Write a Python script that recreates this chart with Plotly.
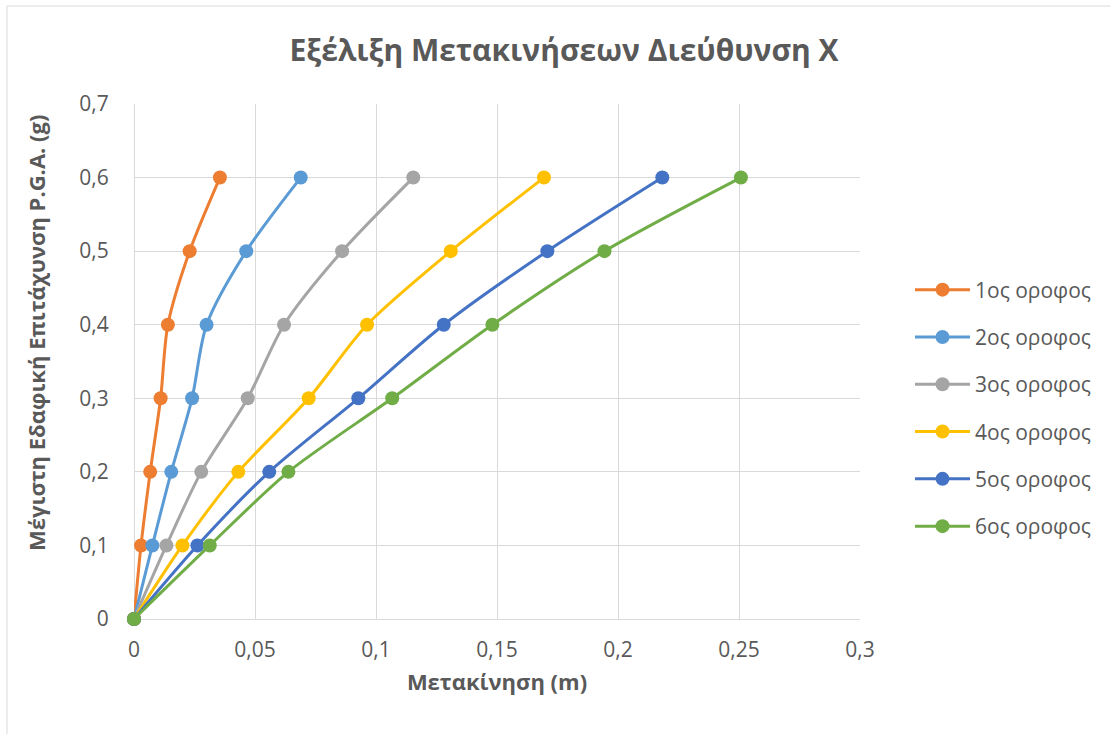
import plotly.graph_objects as go

# Peak ground acceleration levels (g)
pga = [0, 0.1, 0.2, 0.3, 0.4, 0.5, 0.6]

# Peak displacement per storey (m)
floor_names = ["1ος οροφος", "2ος οροφος", "3ος οροφος", "4ος οροφος", "5ος οροφος", "6ος οροφος"]
disp_1 = [0, 0.0029, 0.0067, 0.0110, 0.0140, 0.0230, 0.0355]
disp_2 = [0, 0.0076, 0.0154, 0.0240, 0.0300, 0.0464, 0.0689]
disp_3 = [0, 0.0134, 0.0278, 0.0470, 0.0620, 0.0860, 0.1154]
disp_4 = [0, 0.0200, 0.0431, 0.0722, 0.0963, 0.1309, 0.1694]
disp_5 = [0, 0.0262, 0.0559, 0.0927, 0.1280, 0.1708, 0.2183]
disp_6 = [0, 0.0313, 0.0638, 0.1067, 0.1481, 0.1944, 0.2508]

colors = ["#ED7D31", "#5B9BD5", "#A5A5A5", "#FFC000", "#4472C4", "#70AD47"]
series = [disp_1, disp_2, disp_3, disp_4, disp_5, disp_6]

FONT = "Open Sans"
GREY = "#595959"

fig = go.Figure()
for i, (name, xs) in enumerate(zip(floor_names, series)):
    fig.add_trace(go.Scatter(
        x=xs, y=pga, name=name, mode="lines+markers",
        line=dict(color=colors[i], width=3, shape="spline", smoothing=0.8),
        marker=dict(color=colors[i], size=14),
        cliponaxis=False, legendgroup=f"g{i}",
    ))

# Plot-area geometry (px)
W, H = 1110, 734
L, R, T, B = 134, 250, 104, 115
pw, ph = W - L - R, H - T - B

def px_x(p):
    return (p - L) / pw

def px_y(p):
    return (H - B - p) / ph

fig.update_layout(
    width=W, height=H,
    margin=dict(l=L, r=R, t=T, b=B),
    paper_bgcolor="white", plot_bgcolor="white",
    separators=",.",
    font=dict(family=FONT, color=GREY, size=21),
    title=dict(
        text="<b>Εξέλιξη Μετακινήσεων Διεύθυνση Χ</b>",
        x=564 / W, xref="container", xanchor="center",
        y=1 - 50 / H, yref="container", yanchor="middle",
        font=dict(family=FONT, size=30, color=GREY),
    ),
    xaxis=dict(
        range=[0, 0.3], dtick=0.05, tick0=0,
        showgrid=True, gridcolor="#D9D9D9", gridwidth=1,
        zeroline=True, zerolinecolor="#D9D9D9", zerolinewidth=1,
        showline=False,
        ticks="outside", ticklen=12, tickcolor="rgba(0,0,0,0)",
        tickfont=dict(size=21, color=GREY),
        title=dict(text="<b>Μετακίνηση (m)</b>", font=dict(size=22, color=GREY), standoff=12),
    ),
    yaxis=dict(
        range=[0, 0.7], dtick=0.1, tick0=0,
        showgrid=True, gridcolor="#D9D9D9", gridwidth=1,
        zeroline=True, zerolinecolor="#D9D9D9", zerolinewidth=1,
        showline=False,
        ticks="outside", ticklen=20, tickcolor="rgba(0,0,0,0)",
        tickfont=dict(size=21, color=GREY),
    ),
    legend=dict(
        x=px_x(910), y=px_y(408), xanchor="left", yanchor="middle",
        font=dict(size=21, color=GREY),
        tracegroupgap=17, itemwidth=55,
        bgcolor="rgba(0,0,0,0)",
    ),
    showlegend=True,
)

# Vertical axis title
fig.add_annotation(
    text="<b>Μέγιστη Εδαφική Επιτάχυνση P.G.A. (g)</b>",
    xref="paper", yref="paper", x=px_x(36), y=px_y(333),
    xanchor="center", yanchor="middle", textangle=-90, showarrow=False,
    font=dict(family=FONT, size=22, color=GREY),
)

# Outer chart frame
fig.add_shape(
    type="rect", xref="paper", yref="paper",
    x0=px_x(7), x1=px_x(W + 5), y0=px_y(H + 5), y1=px_y(6),
    line=dict(color="#D9D9D9", width=1), fillcolor="rgba(0,0,0,0)", layer="below",
)

fig.write_html("out.html")
